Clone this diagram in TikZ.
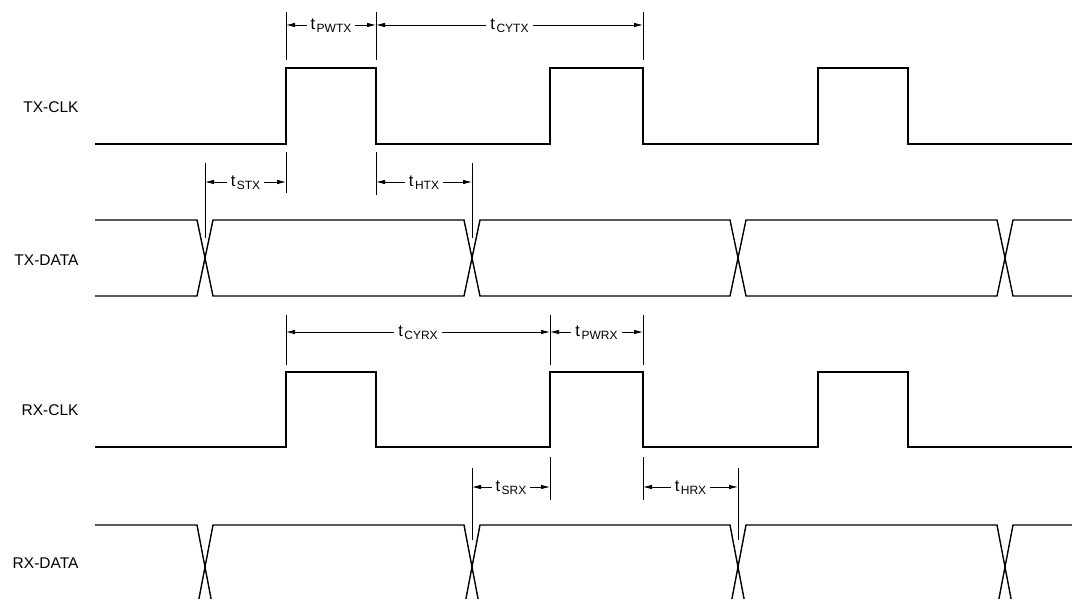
\documentclass[tikz,border=0pt]{standalone}
\usepackage{fontspec}
\setmainfont{Liberation Sans}
\usetikzlibrary{arrows.meta}
\newcommand{\tdelay}[1]{t\kern1.5pt\raisebox{-3pt}{\fontsize{12}{13}\selectfont #1}}
\begin{document}
\begin{tikzpicture}[x=1pt, y=-1pt,
	wave/.style={line width=1.4pt, line join=miter},
	guide/.style={line width=0.8pt},
	span/.style={line width=0.8pt, {Latex[length=9pt,width=4.5pt]}-{Latex[length=9pt,width=4.5pt]}},
	spanlabel/.style={fill=white, inner xsep=4pt, inner ysep=1pt, yshift=-1pt, font=\fontsize{16.5}{18}\selectfont},
	signame/.style={anchor=east, font=\fontsize{15.5}{18}\selectfont}]
	\useasboundingbox (0,0) rectangle (1072,599);
	% signal names
	\node[signame] at (82,107) (N1) {TX-CLK};
	\node[signame] at (82,260) (N2) {TX-DATA};
	\node[signame] at (82,410) (N3) {RX-CLK};
	\node[signame] at (82,563) (N4) {RX-DATA};
	% waveforms
	\draw[wave] (95,144) -- (286,144) -- (286,68) -- (376,68) -- (376,144) -- (550,144) -- (550,68) -- (643,68) -- (643,144) -- (818,144) -- (818,68) -- (908,68) -- (908,144) -- (1072,144);
	\draw[wave] (95,220) -- (197,220) -- (213,296) -- (464,296) -- (480,220) -- (730,220) -- (746,296) -- (997,296) -- (1013,220) -- (1072,220);
	\draw[wave] (95,296) -- (197,296) -- (213,220) -- (464,220) -- (480,296) -- (730,296) -- (746,220) -- (997,220) -- (1013,296) -- (1072,296);
	\draw[wave] (95,447) -- (286,447) -- (286,372) -- (376,372) -- (376,447) -- (550,447) -- (550,372) -- (643,372) -- (643,447) -- (818,447) -- (818,372) -- (908,372) -- (908,447) -- (1072,447);
	\draw[wave] (95,525) -- (197,525) -- (213,609) -- (464,609) -- (480,525) -- (730,525) -- (746,609) -- (997,609) -- (1013,525) -- (1072,525);
	\draw[wave] (95,609) -- (197,609) -- (213,525) -- (464,525) -- (480,609) -- (730,609) -- (746,525) -- (997,525) -- (1013,609) -- (1072,609);
	% TX timing
	\node[shape=coordinate] at (286,25) (A1) {};
	\node[shape=coordinate] at (376,25) (A2) {};
	\node[shape=coordinate] at (643,25) (A3) {};
	\node[shape=coordinate] at (205,182) (B1) {};
	\node[shape=coordinate] at (286,182) (B2) {};
	\node[shape=coordinate] at (376,182) (B3) {};
	\node[shape=coordinate] at (472,182) (B4) {};
	\draw[guide] (286,12) -- (286,60);
	\draw[guide] (376,12) -- (376,60);
	\draw[guide] (643,12) -- (643,60);
	\draw[guide] (286,152) -- (286,193);
	\draw[guide] (376,152) -- (376,195);
	\draw[guide] (205,163) -- (205,238);
	\draw[guide] (472,163) -- (472,238);
	\draw[span] (A1) -- (A2) node[midway, spanlabel] (T1) {\tdelay{PWTX}};
	\draw[span] (A2) -- (A3) node[midway, spanlabel] (T2) {\tdelay{CYTX}};
	\draw[span] (B1) -- (B2) node[midway, spanlabel] (T3) {\tdelay{STX}};
	\draw[span] (B3) -- (B4) node[midway, spanlabel] (T4) {\tdelay{HTX}};
	% RX timing
	\node[shape=coordinate] at (286,332) (C1) {};
	\node[shape=coordinate] at (550,332) (C2) {};
	\node[shape=coordinate] at (643,332) (C3) {};
	\node[shape=coordinate] at (472,487) (D1) {};
	\node[shape=coordinate] at (550,487) (D2) {};
	\node[shape=coordinate] at (643,487) (D3) {};
	\node[shape=coordinate] at (738,487) (D4) {};
	\draw[guide] (286,315) -- (286,365);
	\draw[guide] (550,315) -- (550,365);
	\draw[guide] (643,315) -- (643,365);
	\draw[guide] (550,457) -- (550,500);
	\draw[guide] (643,457) -- (643,500);
	\draw[guide] (472,468) -- (472,540);
	\draw[guide] (738,468) -- (738,540);
	\draw[span] (C1) -- (C2) node[midway, spanlabel] (T5) {\tdelay{CYRX}};
	\draw[span] (C2) -- (C3) node[midway, spanlabel] (T6) {\tdelay{PWRX}};
	\draw[span] (D1) -- (D2) node[midway, spanlabel] (T7) {\tdelay{SRX}};
	\draw[span] (D3) -- (D4) node[midway, spanlabel] (T8) {\tdelay{HRX}};
\end{tikzpicture}
\end{document}
